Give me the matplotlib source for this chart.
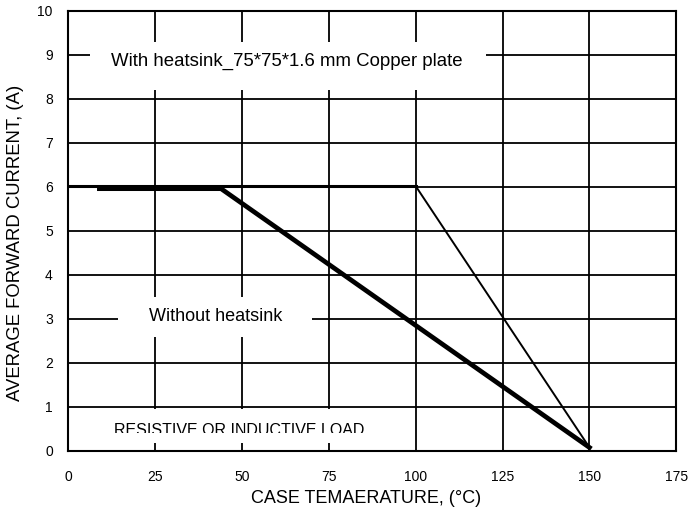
import numpy as np
import matplotlib
matplotlib.use('Agg')
from matplotlib import pyplot as plt
from matplotlib.patches import Rectangle

plt.rcParams['font.family'] = ['Liberation Sans', 'DejaVu Sans']

"DERATING CURVES"
with_temp = [0, 100, 150]
with_curr = [6.02, 6.02, 0.08]
without_temp = [9, 44, 150]
without_curr = [5.96, 5.96, 0.08]

x_ticks = [0, 25, 50, 75, 100, 125, 150, 175]
y_ticks = [0, 1, 2, 3, 4, 5, 6, 7, 8, 9, 10]

fig = plt.figure(figsize=(6.88, 5.16), dpi=100)
ax = fig.add_axes([0.099, 0.126, 0.884, 0.853])

ax.plot(with_temp, with_curr, color='k', linewidth=1.4, zorder=3, solid_joinstyle='miter')
ax.plot(with_temp[:2], with_curr[:2], color='k', linewidth=2.2, zorder=3)
ax.plot(without_temp, without_curr, color='k', linewidth=3.4, zorder=3, solid_joinstyle='miter')

ax.set_xlim(0, 175)
ax.set_ylim(0, 10)
ax.set_xticks(x_ticks)
ax.set_yticks(y_ticks)
ax.tick_params(length=0, labelsize=10)
ax.tick_params(axis='x', pad=14)
ax.tick_params(axis='y', pad=11)
ax.grid(True, color='k', linewidth=1.3)
ax.set_axisbelow(True)
for s in ax.spines.values():
    s.set_linewidth(1.5)

ax.set_xlabel('CASE TEMAERATURE, (\u00b0C)', fontsize=13, va='center', ha='center')
ax.set_ylabel('AVERAGE FORWARD CURRENT, (A)', fontsize=13.3, va='center', ha='center')
ax.xaxis.set_label_coords(0.49, -0.109)
ax.yaxis.set_label_coords(-0.087, 0.473)

"TEXT LABELS WITH WHITE BACKGROUND"
ax.add_patch(Rectangle((6.3, 8.2), 114, 1.1, facecolor='white', edgecolor='none', zorder=2))
ax.text(62.9, 8.86, 'With heatsink_75*75*1.6 mm Copper plate', fontsize=13.4,
        ha='center', va='center', zorder=4)
ax.add_patch(Rectangle((14.4, 2.6), 55.7, 0.9, facecolor='white', edgecolor='none', zorder=2))
ax.text(42.5, 3.06, 'Without heatsink', fontsize=13,
        ha='center', va='center', zorder=4)
ax.add_patch(Rectangle((13, 0.18), 72, 0.78, facecolor='white', edgecolor='none', zorder=2))
ax.text(49.2, 0.37, 'RESISTIVE OR INDUCTIVE LOAD', fontsize=11.5,
        ha='center', va='baseline', zorder=4)
ax.add_patch(Rectangle((13, 0.18), 72, 0.23, facecolor='white', edgecolor='none', zorder=5))

fig.savefig('out.png', dpi=100)
